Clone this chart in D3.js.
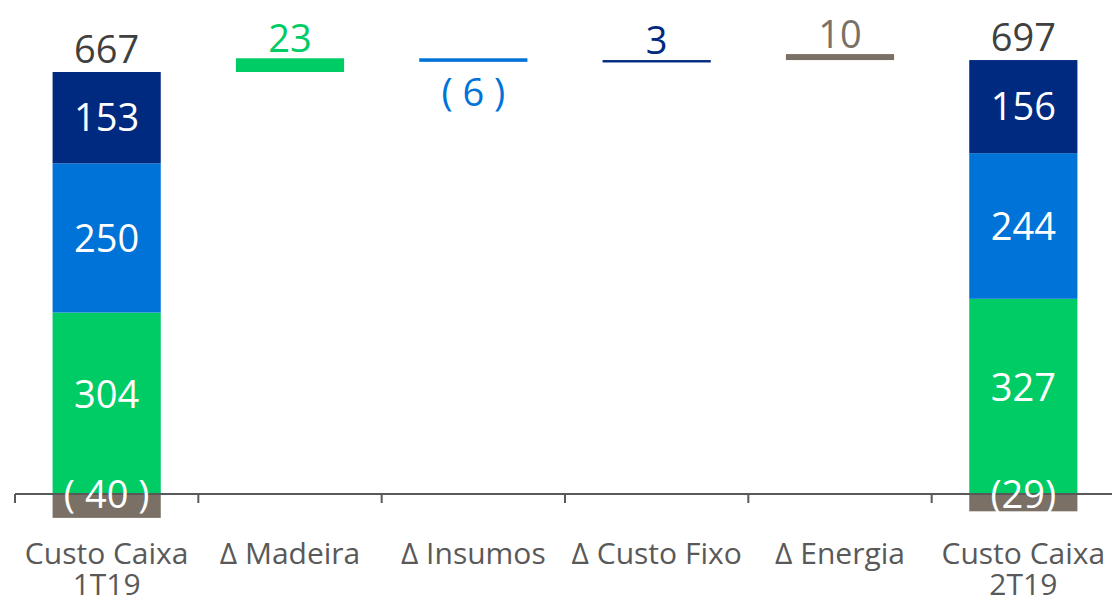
<!DOCTYPE html>
<html>
<head>
<meta charset="utf-8">
<script src="https://cdn.jsdelivr.net/npm/d3@7"></script>
<style>
  body { margin: 0; background: #fff; }
  text { font-family: "Open Sans", "Noto Sans", sans-serif; }
</style>
</head>
<body>
<svg width="1112" height="601"></svg>
<script>
// data
var categories = ["Custo Caixa 1T19", "Δ Madeira", "Δ Insumos", "Δ Custo Fixo", "Δ Energia", "Custo Caixa 2T19"];
var catLines = [["Custo Caixa", "1T19"], ["Δ Madeira"], ["Δ Insumos"], ["Δ Custo Fixo"], ["Δ Energia"], ["Custo Caixa", "2T19"]];
var stackKeys = ["energia", "madeira", "insumos", "fixo"];
var startStack = {energia: -40, madeira: 304, insumos: 250, fixo: 153};
var endStack = {energia: -29, madeira: 327, insumos: 244, fixo: 156};
var totals = [667, 697];
var deltas = [
  {cat: "Δ Madeira", key: "madeira", value: 23},
  {cat: "Δ Insumos", key: "insumos", value: -6},
  {cat: "Δ Custo Fixo", key: "fixo", value: 3},
  {cat: "Δ Energia", key: "energia", value: 10}
];

var colors = {madeira: "#00cc66", insumos: "#0073d9", fixo: "#002a7f", energia: "#7a7066"};

var svg = d3.select("svg"),
    zeroY = 494;

var x = d3.scaleBand()
    .domain(categories)
    .range([15, 1115])
    .paddingInner(0.41)
    .paddingOuter(0.205);

var y = d3.scaleLinear()
    .domain([0, 707])
    .range([zeroY, 72]);

var bw = x.bandwidth();

// stacked total bars
function stackBar(cat, vals) {
  var g = svg.append("g");
  var pos = 0;
  var segs = [];
  stackKeys.forEach(function(k) {
    var v = vals[k];
    if (v < 0) {
      segs.push({key: k, y0: v, y1: 0, v: v});
    } else {
      segs.push({key: k, y0: pos, y1: pos + v, v: v});
      pos += v;
    }
  });
  g.selectAll("rect").data(segs).enter().append("rect")
      .attr("x", x(cat))
      .attr("width", bw)
      .attr("y", function(d) { return y(d.y1); })
      .attr("height", function(d) { return y(d.y0) - y(d.y1); })
      .attr("fill", function(d) { return colors[d.key]; });
  g.selectAll("text.seg").data(segs.filter(function(d) { return d.v > 0; })).enter().append("text")
      .attr("class", "seg")
      .attr("x", x(cat) + bw / 2)
      .attr("y", function(d) { return (y(d.y0) + y(d.y1)) / 2 - (d.key === "madeira" ? 9 : 0); })
      .attr("dy", "0.36em")
      .attr("text-anchor", "middle")
      .attr("fill", "#fff")
      .attr("font-size", 38)
      .text(function(d) { return d.v; });
  return pos;
}

var top1 = stackBar(categories[0], startStack);
var top2 = stackBar(categories[5], endStack);

// waterfall deltas
var running = top1;
deltas.forEach(function(d) {
  d.from = running;
  d.to = running + d.value;
  running = d.to;
});

svg.selectAll("rect.delta").data(deltas).enter().append("rect")
    .attr("class", "delta")
    .attr("x", function(d) { return x(d.cat); })
    .attr("width", bw)
    .attr("y", function(d) { return y(Math.max(d.from, d.to)); })
    .attr("height", function(d) { return Math.max(2.4, Math.abs(y(d.from) - y(d.to))); })
    .attr("fill", function(d) { return colors[d.key]; });

svg.selectAll("text.delta").data(deltas).enter().append("text")
    .attr("x", function(d) { return x(d.cat) + bw / 2; })
    .attr("y", function(d) {
      return d.value >= 0 ? y(Math.max(d.from, d.to)) - 6 : y(Math.min(d.from, d.to)) + 44;
    })
    .attr("text-anchor", "middle")
    .attr("fill", function(d) { return colors[d.key]; })
    .attr("font-size", 38)
    .text(function(d) { return d.value >= 0 ? d.value : "( " + (-d.value) + " )"; });

// totals above bars
svg.selectAll("text.total").data([[categories[0], top1, totals[0]], [categories[5], top2, totals[1]]])
  .enter().append("text")
    .attr("x", function(d) { return x(d[0]) + bw / 2; })
    .attr("y", function(d) { return y(d[1]) - 9; })
    .attr("text-anchor", "middle")
    .attr("fill", "#404040")
    .attr("font-size", 38)
    .text(function(d) { return d[2]; });

// axis
var axisG = svg.append("g");
axisG.append("line")
    .attr("x1", 15).attr("x2", 1112)
    .attr("y1", zeroY).attr("y2", zeroY)
    .attr("stroke", "#595959").attr("stroke-width", 2);
var step = x.step();
axisG.selectAll("line.tick").data(d3.range(categories.length)).enter().append("line")
    .attr("x1", function(i) { return 15 + i * step; })
    .attr("x2", function(i) { return 15 + i * step; })
    .attr("y1", zeroY).attr("y2", zeroY + 9)
    .attr("stroke", "#595959").attr("stroke-width", 2);

// negative labels (drawn over axis)
svg.selectAll("text.neg").data([[categories[0], "( " + (-startStack.energia) + " )"], [categories[5], "(" + (-endStack.energia) + ")"]])
  .enter().append("text")
    .attr("x", function(d) { return x(d[0]) + bw / 2; })
    .attr("y", zeroY)
    .attr("dy", "0.36em")
    .attr("text-anchor", "middle")
    .attr("fill", "#fff")
    .attr("font-size", 38)
    .text(function(d) { return d[1]; });

// category labels, one text per line
categories.forEach(function(c, i) {
  svg.selectAll(null).data(catLines[i]).enter().append("text")
      .attr("x", x(c) + bw / 2)
      .attr("y", function(d, j) { return 564 + j * 31; })
      .attr("text-anchor", "middle")
      .attr("fill", "#595959")
      .attr("font-size", 30)
      .text(function(d) { return d; });
});
</script>
</body>
</html>
